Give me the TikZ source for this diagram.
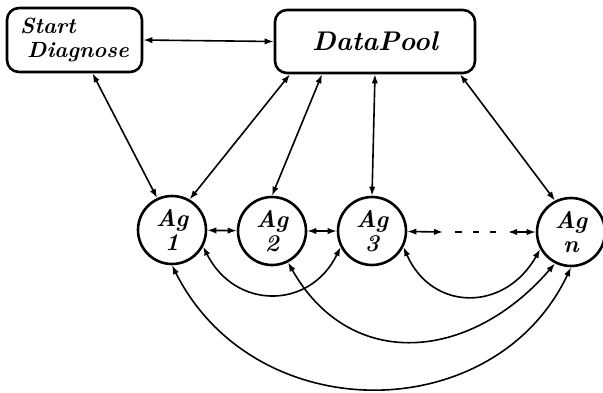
\documentclass[tikz,border=0pt]{standalone}
\usepackage{amsmath,amssymb,amsfonts}
\usepackage{xcolor}
\usepackage{tikz}
\usetikzlibrary{arrows.meta}

\tikzset{
  box/.style={draw, line width=1.3pt, rounded corners=6pt, font=\bfseries\itshape},
  agent/.style={draw, circle, line width=1.3pt, minimum size=34pt, inner sep=0pt,
    align=center, font=\bfseries\itshape\fontsize{12}{12}\selectfont},
  link/.style={line width=0.8pt, {Latex[length=4.5pt,width=3.2pt]}-{Latex[length=4.5pt,width=3.2pt]}}
}

\begin{document}
\begin{tikzpicture}[x=0.5pt,y=-0.5pt]
          \useasboundingbox (0,0) rectangle (603,392);
          % top boxes
          \node[box, minimum width=67.5pt, minimum height=32pt, align=left,
                font=\bfseries\itshape\fontsize{11}{12}\selectfont] (sd) at (74.5,40)
                {Start\\\hspace*{3.5pt}Diagnose};
          \node[box, minimum width=100pt, minimum height=31.5pt,
                font=\bfseries\itshape\fontsize{13.5}{15}\selectfont] (dp) at (375,41.5) {DataPool};
          % agents
          \node[agent] (ag1) at (172,230) {Ag\\1};
          \node[agent] (ag2) at (272,231) {Ag\\2};
          \node[agent] (ag3) at (372,231) {Ag\\3};
          \node[agent] (agn) at (571,232) {Ag\\n};
          \coordinate (d1) at (443,232);
          \coordinate (d2) at (508,232);
          % links to the boxes
          \draw[link] (sd.east) -- (dp.west);
          \draw[link] ([xshift=9pt]sd.south) -- (ag1.115);
          \draw[link] ([xshift=-42.5pt]dp.south) -- (ag1.60);
          \draw[link] ([xshift=-26.5pt]dp.south) -- (ag2.90);
          \draw[link] (dp.south) -- (ag3.90);
          \draw[link] ([xshift=42.5pt]dp.south) -- (agn.117);
          % links between the agents
          \draw[link] (ag1) -- (ag2);
          \draw[link] (ag2) -- (ag3);
          \draw[link] (ag3) -- (d1);
          \draw[line width=0.8pt, dash pattern=on 0pt off 6pt on 3.5pt off 5.5pt on 3pt off 5.5pt on 3pt off 10pt] (d1) -- (d2);
          \draw[link] (d2) -- (agn);
          \draw[link] (ag1.-28) .. controls (235,310) and (310,310) .. (ag3.-153);
          \draw[link] (ag3.-27) .. controls (432,312) and (505,312) .. (agn.-151);
          \draw[link] (ag2.-63) .. controls (350,372) and (470,362) .. (agn.-117);
          \draw[link] (ag1.-90) .. controls (255,430) and (495,428) .. (agn.-90);
        \end{tikzpicture}
\end{document}
